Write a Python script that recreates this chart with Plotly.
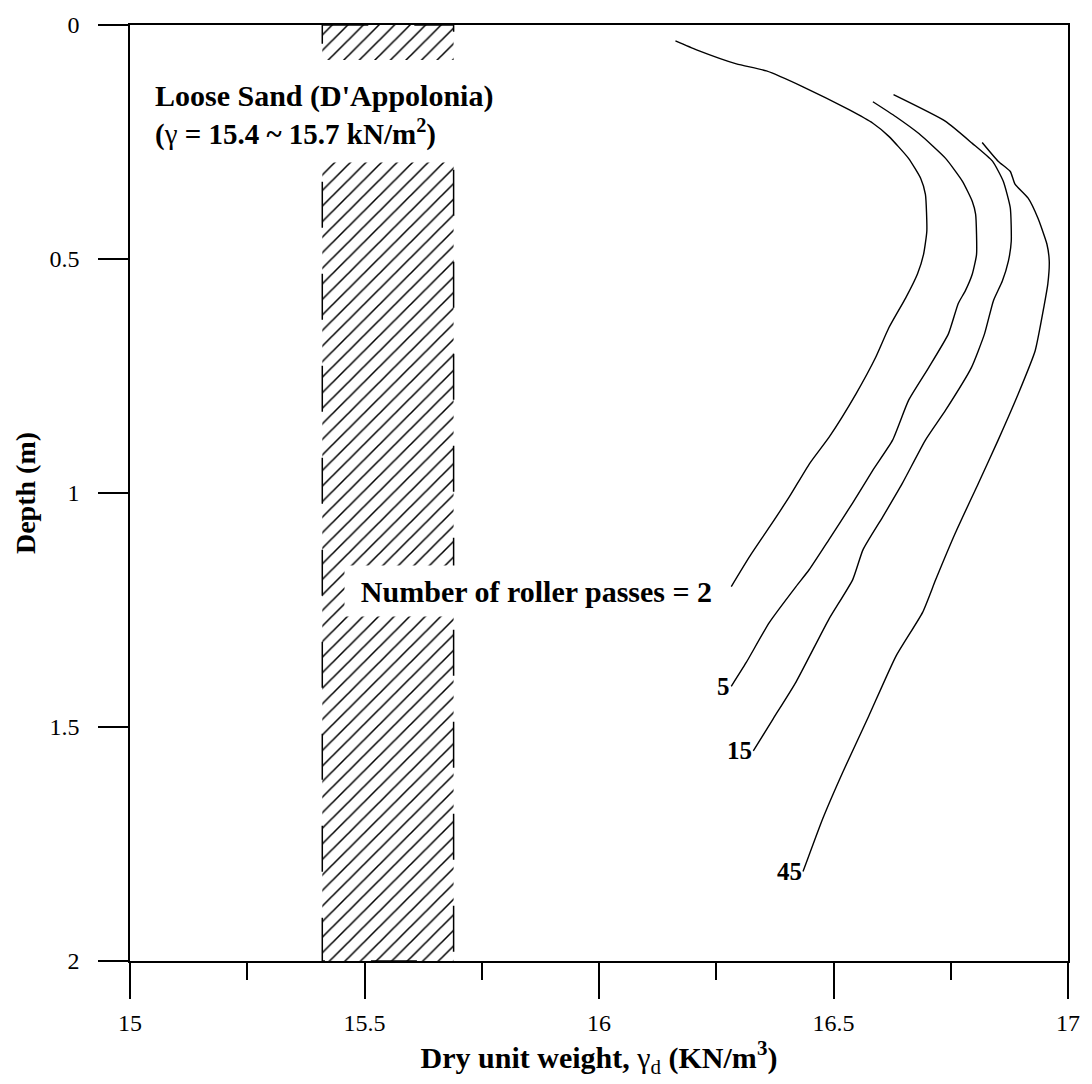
import plotly.graph_objects as go

# ---- data ----
passes = ["2", "5", "15", "45"]

x_n2 = [16.163, 16.208, 16.293, 16.357, 16.435, 16.533, 16.584, 16.618, 16.660, 16.686, 16.696, 16.699,
        16.692, 16.679, 16.654, 16.618, 16.590, 16.548, 16.491, 16.449, 16.406, 16.364, 16.321, 16.282]
y_n2 = [0.034, 0.053, 0.083, 0.098, 0.132, 0.181, 0.210, 0.238, 0.285, 0.328, 0.362, 0.440,
        0.490, 0.532, 0.583, 0.647, 0.710, 0.788, 0.880, 0.937, 1.008, 1.072, 1.136, 1.200]

x_n5 = [16.584, 16.633, 16.682, 16.739, 16.775, 16.796, 16.803, 16.805, 16.796, 16.781, 16.766, 16.745,
        16.703, 16.660, 16.626, 16.584, 16.541, 16.490, 16.448, 16.420, 16.363, 16.314, 16.282]
y_n5 = [0.164, 0.196, 0.232, 0.285, 0.334, 0.377, 0.404, 0.490, 0.532, 0.568, 0.595, 0.660,
        0.732, 0.802, 0.887, 0.951, 1.021, 1.100, 1.164, 1.200, 1.277, 1.362, 1.413]

x_n15 = [16.628, 16.739, 16.796, 16.839, 16.862, 16.877, 16.879, 16.873, 16.860, 16.841, 16.822,
         16.794, 16.739, 16.696, 16.647, 16.605, 16.563, 16.541, 16.490, 16.420, 16.371, 16.329]
y_n15 = [0.149, 0.206, 0.253, 0.291, 0.334, 0.391, 0.462, 0.504, 0.547, 0.589, 0.660,
         0.732, 0.823, 0.887, 0.979, 1.051, 1.121, 1.185, 1.270, 1.404, 1.483, 1.551]

x_n45 = [16.817, 16.851, 16.877, 16.887, 16.915, 16.936, 16.955, 16.960, 16.957, 16.949, 16.930,
         16.894, 16.851, 16.809, 16.760, 16.718, 16.690, 16.633, 16.575, 16.520, 16.477, 16.435]
y_n45 = [0.251, 0.291, 0.313, 0.340, 0.370, 0.413, 0.468, 0.504, 0.553, 0.600, 0.696,
         0.788, 0.887, 0.979, 1.085, 1.185, 1.255, 1.349, 1.477, 1.596, 1.696, 1.809]

band_x = [15.41, 15.69]      # loose sand range (D'Appolonia)
band_y = [0, 2]

x_ticks = [15, 15.5, 16, 16.5, 17]
x_tick_text = ["15", "15.5", "16", "16.5", "17"]
y_ticks = [0, 0.5, 1, 1.5, 2]
y_tick_text = ["0", "0.5", "1", "1.5", "2"]

FONT = "Liberation Serif, Times New Roman, serif"

fig = go.Figure()

# hatched band
fig.add_trace(go.Scatter(
    x=[band_x[0], band_x[1], band_x[1], band_x[0], band_x[0]],
    y=[band_y[0], band_y[0], band_y[1], band_y[1], band_y[0]],
    mode="lines", fill="toself",
    fillcolor="white",
    fillpattern=dict(shape="/", fgcolor="black", bgcolor="white", size=11, solidity=0.14, fgopacity=1),
    line=dict(color="black", width=1.5, dash="46px,46px"),
    hoverinfo="skip", showlegend=False,
))

curves = [(x_n2, y_n2), (x_n5, y_n5), (x_n15, y_n15), (x_n45, y_n45)]
for name, (xs, ys) in zip(passes, curves):
    fig.add_trace(go.Scatter(x=xs, y=ys, mode="lines", name=name,
                             line=dict(color="black", width=1.4, shape="spline", smoothing=0.5),
                             showlegend=False))

# white box behind the top text
fig.add_shape(type="rect", xref="x", yref="y", x0=15.04, x1=15.80, y0=0.075, y1=0.294,
              fillcolor="white", line=dict(width=0), layer="above")

annotations = [
    dict(x=15.05, y=0.152, text="<b>Loose Sand (D'Appolonia)</b>", xanchor="left", yanchor="middle",
         font=dict(size=30)),
    dict(x=15.05, y=0.229, text="<b>(</b>γ<b> = 15.4 ~ 15.7 kN/m<sup>2</sup>)</b>", xanchor="left",
         yanchor="middle", font=dict(size=29)),
    dict(x=15.867, y=1.21, text="<b>Number of roller passes = 2</b>", xanchor="center", yanchor="middle",
         bgcolor="white", width=383, height=50, borderpad=0, font=dict(size=30)),
]
for name, (xs, ys) in zip(passes[1:], curves[1:]):
    annotations.append(dict(x=xs[-1], y=ys[-1], text=f"<b>{name}</b>", xanchor="right", yanchor="middle",
                            xshift=1, font=dict(size=25)))
for a in annotations:
    a.setdefault("showarrow", False)
    a["xref"] = "x"
    a["yref"] = "y"
    a["font"] = dict(family=FONT, color="black", size=a["font"]["size"])
fig.update_layout(annotations=annotations)

fig.update_xaxes(
    range=[15, 17], tickvals=x_ticks, ticktext=x_tick_text,
    ticks="outside", ticklen=36, tickwidth=1.5, tickcolor="black",
    minor=dict(dtick=0.25, tick0=15, ticks="outside", ticklen=17, tickwidth=1.5, tickcolor="black"),
    showline=True, linecolor="black", linewidth=1.5, mirror=True,
    showgrid=False, zeroline=False,
    tickfont=dict(family=FONT, size=24, color="black"), ticklabelstandoff=3,
    title=dict(text="<b>Dry unit weight, </b>γ<sub>d</sub><b> (KN/m<sup>3</sup>)</b>",
               font=dict(family=FONT, size=30, color="black"), standoff=12),
)
fig.update_yaxes(
    range=[2, 0], tickvals=y_ticks, ticktext=y_tick_text,
    ticks="outside", ticklen=30, tickwidth=1.5, tickcolor="black",
    showline=True, linecolor="black", linewidth=1.5, mirror=True,
    showgrid=False, zeroline=False,
    tickfont=dict(family=FONT, size=24, color="black"), ticklabelstandoff=14,
    title=dict(text="<b>Depth (m)</b>", font=dict(family=FONT, size=28, color="black"), standoff=6),
)

fig.update_layout(
    width=1092, height=1084,
    margin=dict(l=130, r=20, t=22, b=123),
    paper_bgcolor="white", plot_bgcolor="white",
    font=dict(family=FONT, color="black"),
)

fig.write_html("out.html")
